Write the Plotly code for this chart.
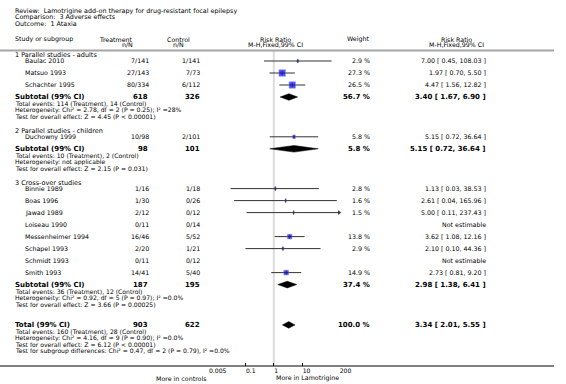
import math
import plotly.graph_objects as go

# ---------------- data ----------------
title_lines = ["Review:  Lamotrigine add-on therapy for drug-resistant focal epilepsy",
               "Comparison:  3 Adverse effects",
               "Outcome:  1 Ataxia"]

group_names = ["1 Parallel studies - adults", "2 Parallel studies - children", "3 Cross-over studies"]

studies = ["Baulac 2010", "Matsuo 1993", "Schachter 1995",
           "Duchowny 1999",
           "Binnie 1989", "Boas 1996", "Jawad 1989", "Loiseau 1990",
           "Messenheimer 1994", "Schapel 1993", "Schmidt 1993", "Smith 1993"]
study_group = [0, 0, 0, 1, 2, 2, 2, 2, 2, 2, 2, 2]
treat_events = [7, 27, 80, 10, 1, 1, 2, 0, 16, 2, 0, 14]
treat_n = [141, 143, 334, 98, 16, 30, 12, 11, 46, 20, 11, 41]
ctrl_events = [1, 7, 6, 2, 1, 0, 0, 0, 5, 1, 0, 5]
ctrl_n = [141, 73, 112, 101, 18, 26, 12, 14, 52, 21, 12, 40]
weights = [2.9, 27.3, 26.5, 5.8, 2.8, 1.6, 1.5, None, 13.8, 2.9, None, 14.9]
rr = [7.00, 1.97, 4.47, 5.15, 1.13, 2.61, 5.00, None, 3.62, 2.10, None, 2.73]
rr_lo = [0.45, 0.70, 1.56, 0.72, 0.03, 0.04, 0.11, None, 1.08, 0.10, None, 0.81]
rr_hi = [108.03, 5.50, 12.82, 36.64, 38.53, 165.96, 237.43, None, 12.16, 44.36, None, 9.20]

sub_treat_n = [618, 98, 187]
sub_ctrl_n = [326, 101, 195]
sub_weight = [56.7, 5.8, 37.4]
sub_rr = [3.40, 5.15, 2.98]
sub_lo = [1.67, 0.72, 1.38]
sub_hi = [6.90, 36.64, 6.41]
sub_ev_t = [114, 10, 36]
sub_ev_c = [14, 2, 12]
sub_het = ["Heterogeneity: Chi² = 2.78, df = 2 (P = 0.25); I² =28%",
           "Heterogeneity: not applicable",
           "Heterogeneity: Chi² = 0.92, df = 5 (P = 0.97); I² =0.0%"]
sub_test = ["Test for overall effect: Z = 4.45 (P < 0.00001)",
            "Test for overall effect: Z = 2.15 (P = 0.031)",
            "Test for overall effect: Z = 3.66 (P = 0.00025)"]

tot_treat_n, tot_ctrl_n = 903, 622
tot_weight = 100.0
tot_rr, tot_lo, tot_hi = 3.34, 2.01, 5.55
tot_ev_t, tot_ev_c = 160, 28
tot_het = "Heterogeneity: Chi² = 4.16, df = 9 (P = 0.90); I² =0.0%"
tot_test = "Test for overall effect: Z = 6.12 (P < 0.00001)"
tot_sub = "Test for subgroup differences: Chi² = 0.47, df = 2 (P = 0.79), I² =0.0%"

tick_vals = [0.005, 0.1, 1, 10, 200]
tick_text = ["0.005", "0.1", "1", "10", "200"]
x_min, x_max = 0.005, 200
left_label, right_label = "More in controls", "More in Lamotrigine"

# ---------------- layout helpers ----------------
W, H = 566, 384
FONT = "DejaVu Sans"
X_STUDY_G, X_STUDY = 13, 24
X_TREAT, X_CTRL, X_WEIGHT, X_RR = 154, 206, 380, 499
AX_L, AX_R, AX_Y = 213, 346.5, 366
BODY, SMALL, BOLD, GROUP, TITLE = 6.3, 6.1, 7.0, 6.5, 6.4

ann = []
def text(x, y, s, anchor="left", size=BODY, bold=False, color="#000"):
    ann.append(dict(x=x / W, y=1 - y / H, xref="paper", yref="paper", text=("<b>%s</b>" % s) if bold else s,
                    showarrow=False, xanchor=anchor, yanchor="middle",
                    font=dict(family=FONT, size=size, color=color)))

for i, t in enumerate(title_lines):
    text(X_STUDY_G, 10.8 + i * 6.7, t, size=TITLE)

text(X_STUDY_G, 39, "Study or subgroup")
text(138, 39, "Treatment", "right")
text(138, 44.5, "n/N", "right")
text(182, 39, "Control", "center")
text(182, 44.5, "n/N", "center")
text(281, 39, "Risk Ratio", "center")
text(281, 44.5, "M-H,Fixed,99% CI", "center")
text(X_WEIGHT - 1, 39, "Weight", "right")
text(466, 39, "Risk Ratio", "center")
text(466, 44.5, "M-H,Fixed,99% CI", "center")

# row positions built from the lists
study_y, sub_y = [], []
y = 55
for g in range(len(group_names)):
    text(X_STUDY_G, y, group_names[g], size=GROUP)
    y += 6
    for k in range(len(studies)):
        if study_group[k] == g:
            study_y.append(y)
            y += 12
    sub_y.append(y)
    stats = ["Total events: %d (Treatment), %d (Control)" % (sub_ev_t[g], sub_ev_c[g]), sub_het[g], sub_test[g]]
    sy = y + 6.5
    for s in stats:
        text(X_STUDY_G, sy, s, size=SMALL)
        sy += 6.5
    y = sy - 6.5 + 14.3
tot_y = y + 6.5

def fmt_ci(r, l, h):
    return "%.2f [ %.2f, %.2f ]" % (r, l, h)

for k, name in enumerate(studies):
    yy = study_y[k]
    text(X_STUDY, yy, name)
    text(X_TREAT, yy, "%d/%d" % (treat_events[k], treat_n[k]), "right")
    text(X_CTRL, yy, "%d/%d" % (ctrl_events[k], ctrl_n[k]), "right")
    if weights[k] is not None:
        text(X_WEIGHT, yy, "%.1f %%" % weights[k], "right")
        text(X_RR, yy, fmt_ci(rr[k], rr_lo[k], rr_hi[k]), "right")
    else:
        text(X_RR, yy, "Not estimable", "right")

for g in range(len(group_names)):
    yy = sub_y[g]
    text(X_STUDY_G, yy, "Subtotal (99% CI)", size=BOLD, bold=True)
    text(X_TREAT - 1, yy, str(sub_treat_n[g]), "right", BOLD, True)
    text(X_CTRL, yy, str(sub_ctrl_n[g]), "right", BOLD, True)
    text(X_WEIGHT, yy, "%.1f %%" % sub_weight[g], "right", BOLD, True)
    text(X_RR, yy, fmt_ci(sub_rr[g], sub_lo[g], sub_hi[g]), "right", BOLD, True)

text(X_STUDY_G, tot_y, "Total (99% CI)", size=BOLD, bold=True)
text(X_TREAT - 1, tot_y, str(tot_treat_n), "right", BOLD, True)
text(X_CTRL, tot_y, str(tot_ctrl_n), "right", BOLD, True)
text(X_WEIGHT, tot_y, "%.1f %%" % tot_weight, "right", BOLD, True)
text(X_RR, tot_y, fmt_ci(tot_rr, tot_lo, tot_hi), "right", BOLD, True)
sy = tot_y + 6.5
for s in ["Total events: %d (Treatment), %d (Control)" % (tot_ev_t, tot_ev_c), tot_het, tot_test, tot_sub]:
    text(X_STUDY_G, sy, s, size=SMALL)
    sy += 6.5

text(AX_L, 378, left_label, "right", size=BODY)
text(280, 378, right_label, "left", size=BODY)

# ---------------- traces ----------------
fig = go.Figure()

# line of no effect
fig.add_trace(go.Scatter(x=[1, 1], y=[51, AX_Y], mode="lines",
                         line=dict(color="#dcdcdc", width=2), hoverinfo="skip", showlegend=False))

# CI lines
cx, cy, arrows_x, arrows_y = [], [], [], []
for k in range(len(studies)):
    if rr[k] is None:
        continue
    lo_c = max(rr_lo[k], x_min)
    hi_c = min(rr_hi[k], x_max)
    cx += [lo_c, hi_c, None]
    cy += [study_y[k], study_y[k], None]
    if rr_hi[k] > x_max:
        arrows_x.append(x_max)
        arrows_y.append(study_y[k])
fig.add_trace(go.Scatter(x=cx, y=cy, mode="lines", line=dict(color="#333333", width=1),
                         hoverinfo="skip", showlegend=False))
fig.add_trace(go.Scatter(x=arrows_x, y=arrows_y, mode="markers", cliponaxis=False,
                         marker=dict(symbol="triangle-right", size=4, color="#333333"),
                         hoverinfo="skip", showlegend=False))

# point estimates
px_, py_, ps = [], [], []
for k in range(len(studies)):
    if rr[k] is None:
        continue
    px_.append(rr[k]); py_.append(study_y[k]); ps.append(1.25 * math.sqrt(weights[k]))
fig.add_trace(go.Scatter(x=px_, y=py_, mode="markers",
                         marker=dict(symbol="square", size=ps, color="#0000ff",
                                     line=dict(color="#6f6fff", width=0.6)),
                         hoverinfo="skip", showlegend=False))
fig.add_trace(go.Scatter(x=px_, y=py_, mode="markers",
                         marker=dict(symbol="line-ns", size=3, line=dict(color="#333333", width=1)),
                         hoverinfo="skip", showlegend=False))

# diamonds
def diamond(r, l, h, yy, half=3.3):
    fig.add_trace(go.Scatter(x=[l, r, h, r, l], y=[yy, yy - half, yy, yy + half, yy],
                             mode="lines", fill="toself", fillcolor="#000000",
                             line=dict(color="#000000", width=0.5),
                             hoverinfo="skip", showlegend=False))

for g in range(len(group_names)):
    diamond(sub_rr[g], sub_lo[g], sub_hi[g], sub_y[g])
diamond(tot_rr, tot_lo, tot_hi, tot_y)

shapes = [
    dict(type="line", xref="paper", yref="y", x0=0, x1=1, y0=50.5, y1=50.5,
         line=dict(color="#a5a5a5", width=2)),
    dict(type="line", xref="paper", yref="y", x0=0, x1=1, y0=AX_Y, y1=AX_Y,
         line=dict(color="#000000", width=1)),
]

fig.update_layout(
    width=W, height=H, margin=dict(l=0, r=0, t=0, b=0),
    paper_bgcolor="white", plot_bgcolor="rgba(0,0,0,0)",
    annotations=ann, shapes=shapes, showlegend=False,
    xaxis=dict(type="log", range=[math.log10(x_min), math.log10(x_max)],
               domain=[AX_L / W, AX_R / W], anchor="free", position=1 - AX_Y / H,
               showgrid=False, zeroline=False, showline=False,
               tickvals=tick_vals, ticktext=tick_text, ticks="inside", ticklen=3,
               tickcolor="#000", tickwidth=1, ticklabelposition="outside right",
               tickfont=dict(family=FONT, size=SMALL, color="#000"), fixedrange=True),
    yaxis=dict(range=[H, 0], domain=[0, 1], visible=False, fixedrange=True),
)

fig.write_html("out.html", config={"displayModeBar": False},
               post_script="document.body.style.margin='0px';")
